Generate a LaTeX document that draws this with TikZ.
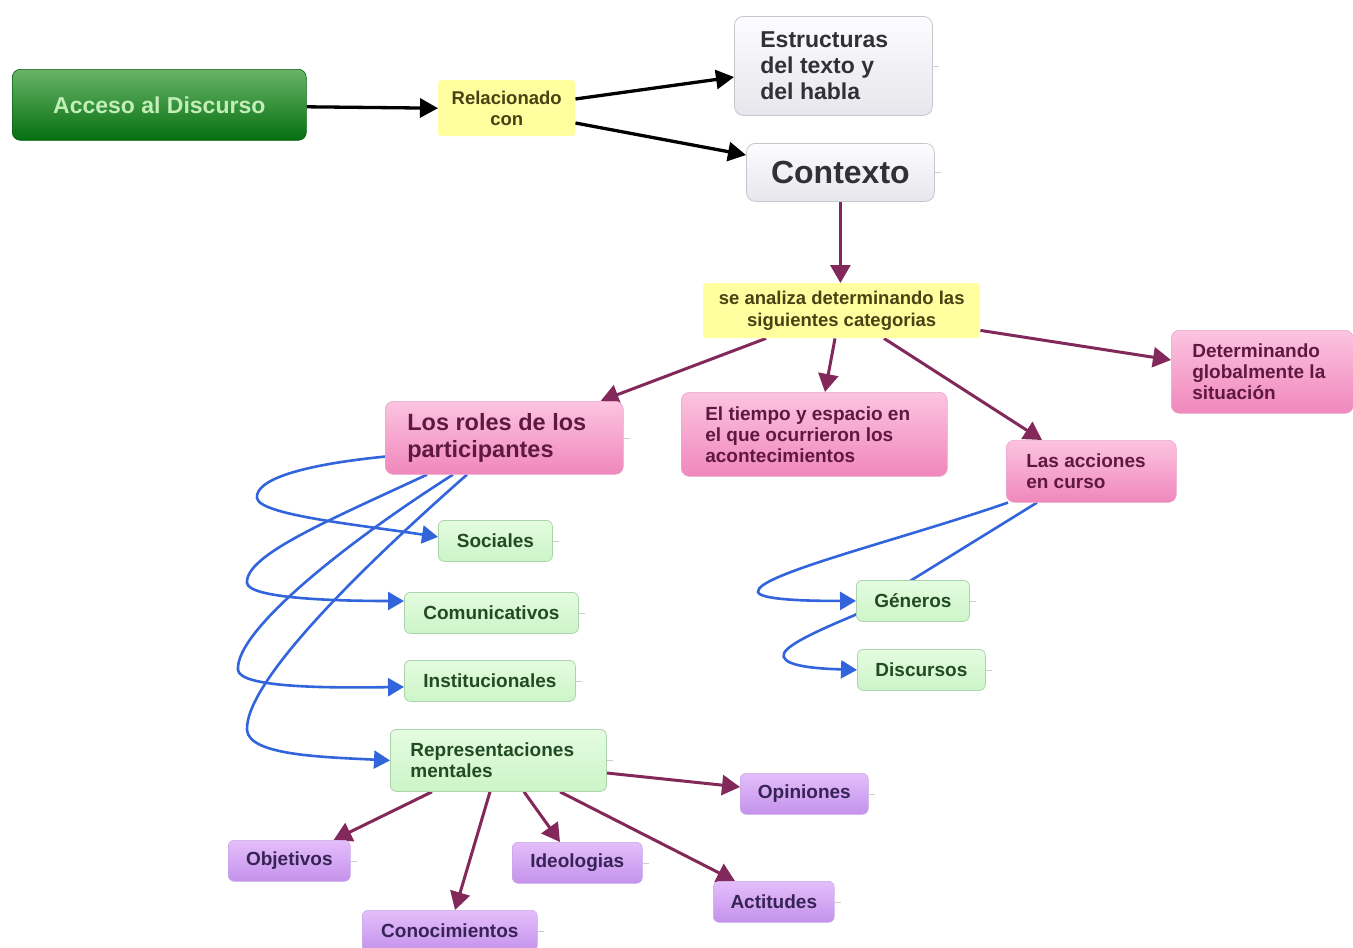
\documentclass[tikz,border=0pt]{standalone}
\usepackage{fontspec}
\setmainfont{Liberation Sans}
\usetikzlibrary{arrows.meta,calc}
\pgfdeclarelayer{background}
\pgfdeclarelayer{paper}
\pgfsetlayers{paper,background,main}
\definecolor{accTop}{RGB}{105,180,105}
\definecolor{accBot}{RGB}{5,112,15}
\definecolor{accTxt}{RGB}{195,238,185}
\definecolor{yel}{RGB}{255,255,160}
\definecolor{yelTxt}{RGB}{75,65,20}
\definecolor{grTop}{RGB}{253,253,255}
\definecolor{grBot}{RGB}{230,230,236}
\definecolor{grBrd}{RGB}{198,198,206}
\definecolor{grTxt}{RGB}{48,48,55}
\definecolor{pkTop}{RGB}{252,196,224}
\definecolor{pkBot}{RGB}{240,135,188}
\definecolor{pkBrd}{RGB}{232,168,205}
\definecolor{pkTxt}{RGB}{95,25,65}
\definecolor{lgTop}{RGB}{228,252,224}
\definecolor{lgBot}{RGB}{205,244,200}
\definecolor{lgBrd}{RGB}{172,212,172}
\definecolor{lgTxt}{RGB}{35,75,35}
\definecolor{puTop}{RGB}{228,190,250}
\definecolor{puBot}{RGB}{196,146,236}
\definecolor{puBrd}{RGB}{200,170,230}
\definecolor{puTxt}{RGB}{55,35,85}
\definecolor{maroonc}{RGB}{130,40,90}
\definecolor{bluc}{RGB}{50,100,220}
\newcommand\myfs[2]{\fontsize{#1}{#2}\selectfont}
\begin{document}
\begin{tikzpicture}[x=1pt,y=-1pt,
  every node/.style={inner sep=0pt},
  fnt/.style 2 args={font=\bfseries\myfs{#1}{#2}},
  accbox/.style={rounded corners=8pt, top color=accTop, bottom color=accBot, draw=accBot!85!black, line width=0.6pt, text=accTxt},
  yelbox/.style={rounded corners=3pt, fill=yel, text=yelTxt, align=flush center},
  grybox/.style={rounded corners=9pt, top color=grTop, bottom color=grBot, draw=grBrd, line width=0.8pt, text=grTxt},
  pnkbox/.style={rounded corners=8pt, top color=pkTop, bottom color=pkBot, draw=pkBrd, line width=0.6pt, text=pkTxt},
  lgbox/.style={rounded corners=6pt, top color=lgTop, bottom color=lgBot, draw=lgBrd, line width=0.8pt, text=lgTxt},
  pubox/.style={rounded corners=6pt, top color=puTop, bottom color=puBot, draw=puBrd, line width=0.6pt, text=puTxt},
  blkarr/.style={line width=3.3pt, black, -{Triangle[length=18pt,width=19pt]}},
  mararr/.style={line width=3pt, maroonc, -{Triangle[length=18pt,width=20pt]}},
  bluarr/.style={line width=2.6pt, bluc, -{Triangle[length=16pt,width=18pt]}},
  tickline/.style={draw=gray!40, line width=0.6pt}
]
\begin{pgfonlayer}{paper}
\fill[white] (0,0) rectangle (1353,948);
\end{pgfonlayer}
\useasboundingbox (0,0) rectangle (1353,948);

% nodes
\node[accbox, fnt={23}{26}, anchor=north west, minimum width=294pt, minimum height=71pt] (acc) at (12,69) {Acceso al Discurso};
\node[yelbox, fnt={18.5}{21}, anchor=north west, minimum width=137pt, minimum height=56pt] (rel) at (438,80) {Relacionado\\con};
\node[grybox, fnt={23}{26}, anchor=north west, minimum height=99pt, text width=146pt, inner xsep=26pt, align=flush left] (estr) at (734,16) {Estructuras\\del texto y\\del habla};
\node[grybox, fnt={32}{36}, anchor=north west, minimum width=188pt, minimum height=58pt] (ctx) at (746,143) {Contexto};
\node[yelbox, fnt={18.5}{22}, anchor=north west, minimum width=277pt, minimum height=55pt] (sean) at (703,283) {se analiza determinando las\\siguientes categorias};
\node[pnkbox, fnt={23.5}{27}, anchor=north west, minimum height=73pt, text width=194pt, inner xsep=22pt, align=flush left] (roles) at (385,401) {Los roles de los\\participantes};
\node[pnkbox, fnt={19}{21}, anchor=north west, minimum height=84pt, text width=218pt, inner xsep=24pt, align=flush left] (tiempo) at (681,392) {El tiempo y espacio en\\el que ocurrieron los\\acontecimientos};
\node[pnkbox, fnt={19}{21}, anchor=north west, minimum height=83pt, text width=140pt, inner xsep=21pt, align=flush left] (deter) at (1171,330) {Determinando\\globalmente la\\situación};
\node[pnkbox, fnt={19}{21}, anchor=north west, minimum height=62pt, text width=130pt, inner xsep=20pt, align=flush left] (accion) at (1006,440) {Las acciones\\en curso};
\node[lgbox, fnt={19}{21}, anchor=north west, minimum width=114pt, minimum height=41pt] (soc) at (438,520) {Sociales};
\node[lgbox, fnt={19}{21}, anchor=north west, minimum width=174pt, minimum height=41pt] (com) at (404,592) {Comunicativos};
\node[lgbox, fnt={19}{21}, anchor=north west, minimum width=171pt, minimum height=41pt] (inst) at (404,660) {Institucionales};
\node[lgbox, fnt={19}{21}, anchor=north west, minimum height=62pt, text width=176pt, inner xsep=20pt, align=flush left] (repr) at (390,729) {Representaciones\\mentales};
\node[lgbox, fnt={19}{21}, anchor=north west, minimum width=113pt, minimum height=41pt] (gen) at (856,580) {Géneros};
\node[lgbox, fnt={19}{21}, anchor=north west, minimum width=128pt, minimum height=41pt] (disc) at (857,649) {Discursos};
\node[pubox, fnt={19}{21}, anchor=north west, minimum width=128pt, minimum height=41pt] (opin) at (740,773) {Opiniones};
\node[pubox, fnt={19}{21}, anchor=north west, minimum width=122pt, minimum height=41pt] (obj) at (228,840) {Objetivos};
\node[pubox, fnt={19}{21}, anchor=north west, minimum width=130pt, minimum height=41pt] (ideo) at (512,842) {Ideologias};
\node[pubox, fnt={19}{21}, anchor=north west, minimum width=175pt, minimum height=41pt] (conoc) at (362,910) {Conocimientos};
\node[pubox, fnt={19}{21}, anchor=north west, minimum width=121pt, minimum height=41pt] (act) at (713,881) {Actitudes};

% small handles
\foreach \n in {estr,ctx,roles,soc,com,inst,repr,gen,disc,opin,obj,ideo,conoc,act}
  \draw[tickline] (\n.east) -- ++(6,0);

\begin{pgfonlayer}{background}
% black
\draw[blkarr] ($(acc.east)+(0,2)$) -- (rel.west);
\draw[blkarr] ($(rel.north east)+(0,19)$) -- ($(estr.north west)+(0,61)$);
\draw[blkarr] ($(rel.north east)+(0,43)$) -- ($(ctx.north west)+(0,12)$);
% maroon
\draw[mararr] (ctx.south) -- (ctx.south |- sean.north);
\draw[mararr] ($(sean.south west)+(63,0)$) -- ($(roles.north east)+(-23,0)$);
\draw[mararr] ($(sean.south west)+(132,0)$) -- ($(tiempo.north west)+(144,0)$);
\draw[mararr] ($(sean.south west)+(181,0)$) -- ($(accion.north west)+(36,0)$);
\draw[mararr] ($(sean.south east)+(0,-8)$) -- ($(deter.north west)+(0,30)$);
\draw[mararr] ($(repr.south west)+(42,0)$) -- ($(obj.north east)+(-17,0)$);
\draw[mararr] ($(repr.south west)+(100,0)$) -- ($(conoc.north west)+(93,0)$);
\draw[mararr] ($(repr.south west)+(134,0)$) -- ($(ideo.north west)+(48,0)$);
\draw[mararr] ($(repr.south west)+(170,0)$) -- ($(act.north west)+(22,0)$);
\draw[mararr] ($(repr.north east)+(0,44)$) -- ($(opin.north west)+(0,14)$);
% blue from roles
\draw[bluarr] ($(roles.south west)+(0,-18)$) .. controls (300,465) and (255,480) .. (257,498)
  .. controls (259,515) and (360,525) .. ($(soc.west)+(0,-4)$);
\draw[bluarr] ($(roles.south west)+(42,0)$) .. controls (330,520) and (245,555) .. (247,583)
  .. controls (249,598) and (330,601) .. ($(com.north west)+(0,9)$);
\draw[bluarr] ($(roles.south west)+(68,0)$) .. controls (350,540) and (235,630) .. (238,670)
  .. controls (240,688) and (330,688) .. ($(inst.west)+(0,6)$);
\draw[bluarr] ($(roles.south west)+(82,0)$) .. controls (370,560) and (245,680) .. (247,730)
  .. controls (249,755) and (320,757) .. (repr.west);
% blue from acciones
\draw[bluarr] ($(accion.south west)+(2,0)$) .. controls (900,540) and (755,575) .. (758,592)
  .. controls (760,600) and (810,601) .. (gen.west);
\draw[bluarr] ($(accion.south west)+(31,0)$) -- (855,615)
  .. controls (795,640) and (776,652) .. (786,660)
  .. controls (795,668) and (830,669) .. (disc.west);
\end{pgfonlayer}
\end{tikzpicture}
\end{document}
